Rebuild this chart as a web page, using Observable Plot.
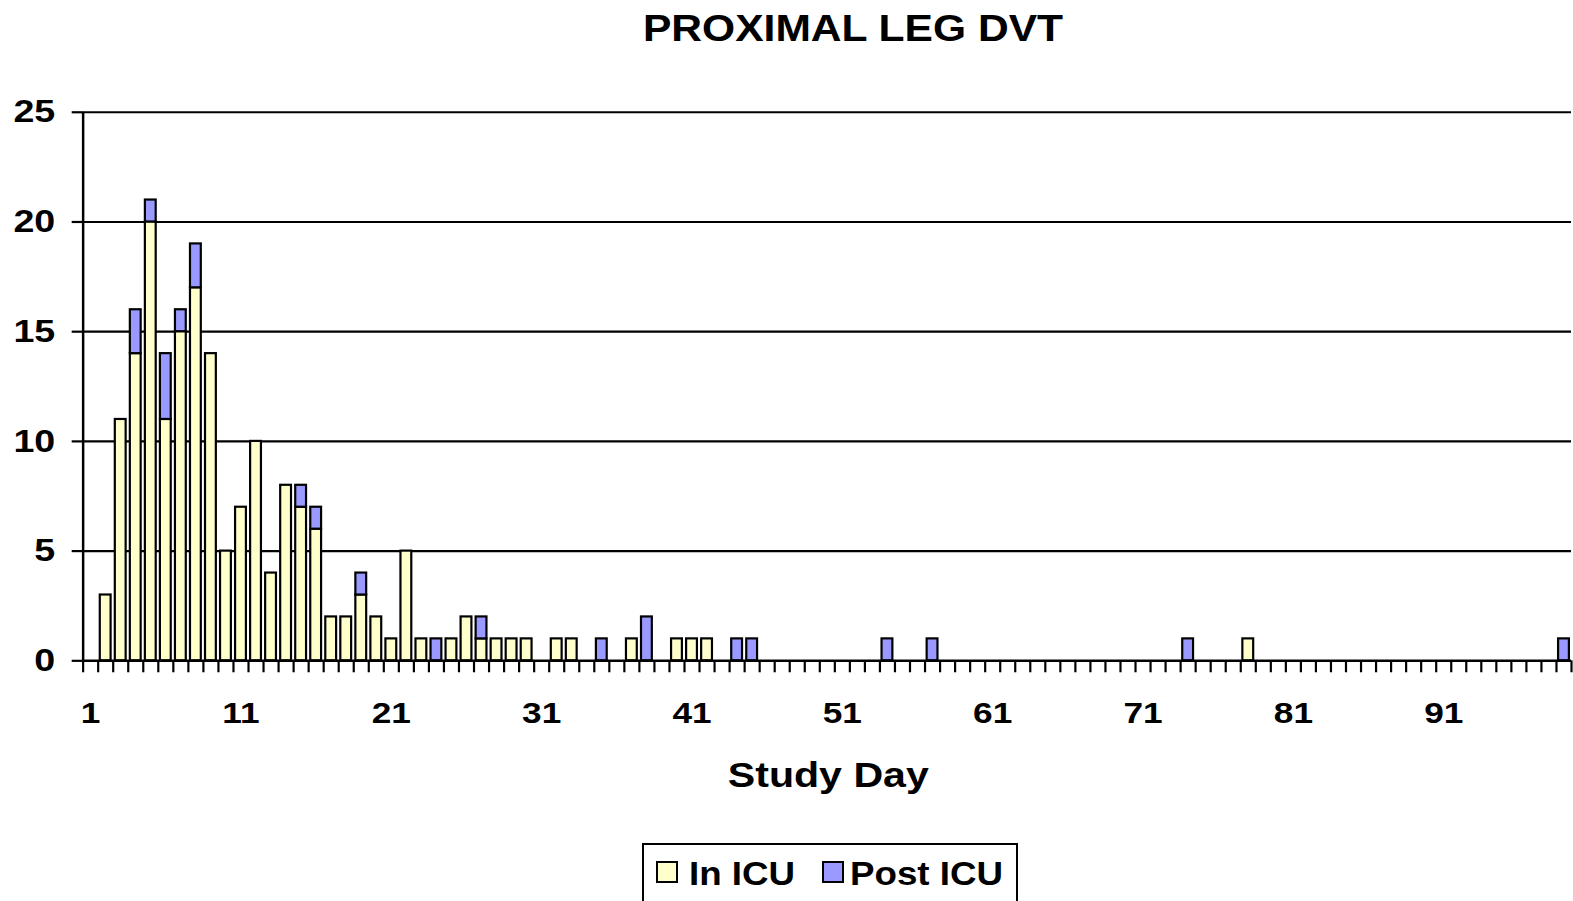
<!DOCTYPE html>
<html>
<head>
<meta charset="utf-8">
<script src="https://cdn.jsdelivr.net/npm/d3@7"></script>
<script src="https://cdn.jsdelivr.net/npm/@observablehq/plot@0.6"></script>
<style>
  html, body { margin: 0; padding: 0; background: #fff; overflow: hidden; }
  #wrap { position: relative; width: 1573px; height: 901px; overflow: hidden;
          font-family: "Liberation Sans", Arial, sans-serif; font-weight: bold; color: #000; }
  #title { position: absolute; left: 853px; top: 10px; font-size: 37px; line-height: 37px;
           white-space: nowrap; transform: translateX(-50%) scaleX(1.15); }
  #chart { position: absolute; left: 0; top: 60px; }
  #legend { position: absolute; left: 642px; top: 843px; width: 376px; height: 90px;
            border: 2px solid #000; box-sizing: border-box; background: #fff; }
  .sw { position: absolute; width: 22px; height: 22px; box-sizing: border-box; border: 2px solid #000; }
  .lab { position: absolute; font-size: 34px; line-height: 34px; white-space: nowrap;
         transform-origin: left center; transform: scaleX(1.08); }
</style>
</head>
<body>
<div id="wrap">
  <div id="title"></div>
  <div id="chart"></div>
  <div id="legend"></div>
</div>
<script>
// ---- data ----
const titleText = "PROXIMAL LEG DVT";
const xLabel = "Study Day";
const seriesNames = ["In ICU", "Post ICU"];
const seriesColors = ["#FFFFCC", "#9999FF"];

// days with In ICU cases, and their counts
const icuDays   = [2, 3, 4, 5, 6, 7, 8, 9, 10, 11, 12, 13, 14, 15, 16, 17, 18, 19, 20, 21, 22, 23, 25, 26, 27, 28, 29, 30, 32, 33, 37, 40, 41, 42, 78];
const icuCounts = [3, 11, 14, 20, 11, 15, 17, 14, 5, 7, 10, 4, 8, 7, 6, 2, 2, 3, 2, 1, 5, 1, 1, 2, 1, 1, 1, 1, 1, 1, 1, 1, 1, 1, 1];

// days with Post ICU cases, and their counts
const postDays   = [4, 5, 6, 7, 8, 15, 16, 19, 24, 27, 35, 38, 44, 45, 54, 57, 74, 99];
const postCounts = [2, 1, 3, 1, 2, 1, 1, 1, 1, 1, 1, 2, 1, 1, 1, 1, 1, 1];

const firstDay = 1, lastDay = 99;
const yTicks = [0, 5, 10, 15, 20, 25];
const xTickLabels = [1, 11, 21, 31, 41, 51, 61, 71, 81, 91];

// ---- build table ----
const rows = [
  ...icuDays.map((d, i) => ({day: d, count: icuCounts[i], series: seriesNames[0]})),
  ...postDays.map((d, i) => ({day: d, count: postCounts[i], series: seriesNames[1]}))
];
const half = 0.36;
const boundaries = d3.range(firstDay - 0.5, lastDay + 1, 1);

const chart = Plot.plot({
  width: 1580,
  height: 740,
  marginTop: 52,
  marginBottom: 137,
  marginLeft: 83,
  marginRight: 2,
  style: {fontFamily: "'Liberation Sans', Arial, sans-serif", fontWeight: "bold", background: "white", color: "#000", overflow: "visible"},
  x: {type: "linear", domain: [firstDay - 0.5, lastDay + 0.5]},
  y: {domain: [0, 25]},
  color: {domain: seriesNames, range: seriesColors},
  marks: [
    Plot.ruleY(yTicks.filter(d => d > 0), {stroke: "#000", strokeWidth: 2.2}),
    Plot.rectY(rows, Plot.stackY({
      x: "day",
      x1: d => d.day - half,
      x2: d => d.day + half,
      y: "count",
      fill: "series",
      stroke: "#000",
      strokeWidth: 2.2
    })),
    Plot.ruleY([0], {stroke: "#000", strokeWidth: 2.5}),
    Plot.ruleX([firstDay - 0.5], {stroke: "#000", strokeWidth: 2.5}),
    Plot.axisY({ticks: yTicks, tickSize: 11, tickPadding: 17, fontSize: 32, strokeWidth: 2.2, label: null}),
    Plot.axisX({ticks: boundaries, tickSize: 12, tickFormat: () => "", strokeWidth: 2.2, label: null}),
    Plot.axisX({ticks: xTickLabels, tickSize: 0, tickPadding: 41, fontSize: 30, label: null}),
    Plot.text([xLabel], {frameAnchor: "bottom", lineAnchor: "middle", dy: 116, dx: 1, fontSize: 35, fontWeight: "bold"})
  ]
});

// horizontally stretched lettering, as in the reference
chart.querySelectorAll("text").forEach(t => {
  const tr = t.getAttribute("transform") || "";
  t.setAttribute("transform", (tr + " scale(1.18,1)").trim());
});

document.getElementById("chart").appendChild(chart);
document.getElementById("title").textContent = titleText;

// legend
const wrap = document.getElementById("wrap");
const legendItems = [
  {sx: 656, tx: 689},
  {sx: 822, tx: 850}
];
seriesNames.forEach((name, i) => {
  const sw = document.createElement("div");
  sw.className = "sw";
  sw.style.left = legendItems[i].sx + "px";
  sw.style.top = "861px";
  sw.style.background = seriesColors[i];
  wrap.appendChild(sw);
  const lab = document.createElement("div");
  lab.className = "lab";
  lab.style.left = legendItems[i].tx + "px";
  lab.style.top = "856px";
  lab.textContent = name;
  wrap.appendChild(lab);
});
</script>
</body>
</html>
